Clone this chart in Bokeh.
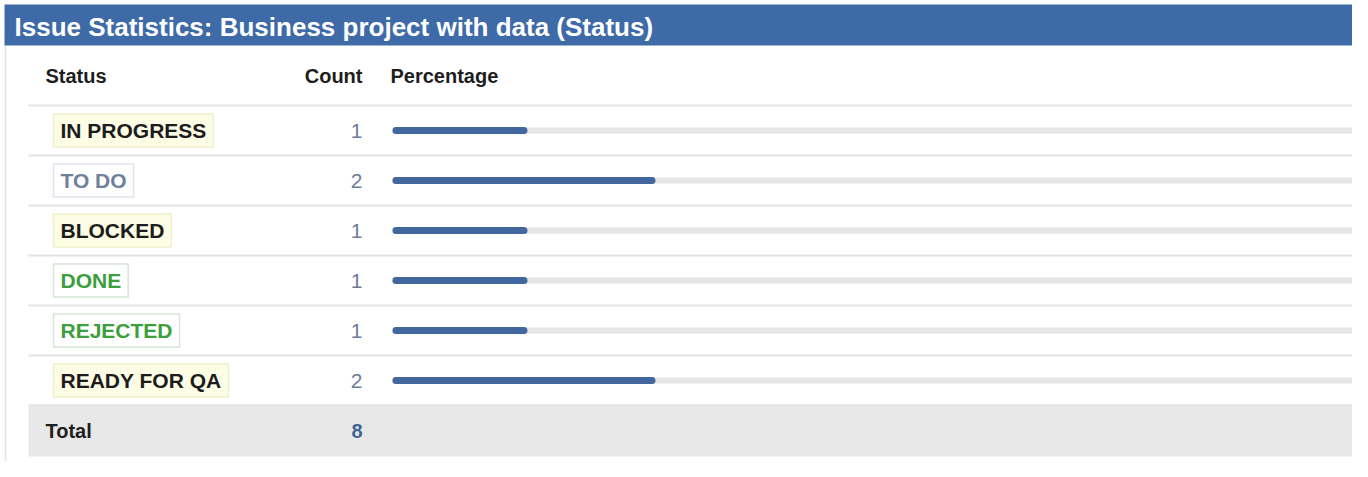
from bokeh.plotting import figure
from bokeh.models import ColumnDataSource, Range1d
from bokeh.embed import file_html
from bokeh.resources import INLINE
from bokeh.core.properties import value

# ---- data ----
title = "Issue Statistics: Business project with data (Status)"
headers = ["Status", "Count", "Percentage"]
statuses = ["IN PROGRESS", "TO DO", "BLOCKED", "DONE", "REJECTED", "READY FOR QA"]
counts = [1, 2, 1, 1, 1, 2]
status_kind = ["yellow", "blue", "yellow", "green", "green", "yellow"]
total_label = "Total"

total = sum(counts)
pcts = [c / total * 100 for c in counts]
rows = list(range(len(statuses)))

# ---- styles ----
FONT = value("Liberation Sans")
kind_text = {"yellow": "#1c1c1c", "blue": "#6f7f9e", "green": "#3c9f3c"}
kind_bg = {"yellow": "#fdfde6", "blue": "#ffffff", "green": "#ffffff"}
kind_bd = {"yellow": "#efefc9", "blue": "#dfe4ec", "green": "#d5e6d5"}

W, H = 1352, 461
p = figure(width=W, height=H, x_range=Range1d(0, W), y_range=Range1d(H, 0),
           x_axis_type=None, y_axis_type=None, output_backend="svg",
           toolbar_location=None, min_border=0)
p.grid.visible = False
p.outline_line_color = None
p.background_fill_color = "white"
p.border_fill_color = "white"
p.extra_x_ranges = {"pct": Range1d(-38.62, 93.41)}
p.extra_y_ranges = {"row": Range1d(6.62, -2.6)}

# panel border
p.segment(x0=[5], x1=[5], y0=[45], y1=[H], line_color="#e4e4e4", line_width=1.5)

# title bar
p.quad(left=4, right=1362, top=4, bottom=45, fill_color="#3e6aa8", line_color=None)
p.text(x=[14], y=[26], text=[title], text_color="white", text_font=FONT,
       text_font_style="bold", text_font_size="26px", text_baseline="middle")

# header row
p.text(x=[45], y=[75], text=[headers[0]], text_color="#1e1e1e", text_font=FONT,
       text_font_style="bold", text_font_size="20px", text_baseline="middle")
p.text(x=[362], y=[75], text=[headers[1]], text_color="#1e1e1e", text_font=FONT,
       text_font_style="bold", text_font_size="20px", text_baseline="middle", text_align="right")
p.text(x=[390], y=[75], text=[headers[2]], text_color="#1e1e1e", text_font=FONT,
       text_font_style="bold", text_font_size="20px", text_baseline="middle")

# total row background
n = len(statuses)
p.quad(left=28, right=1362, top=[n - 0.52], bottom=[n + 0.52], y_range_name="row",
       fill_color="#e8e8e8", line_color=None)

# separators
sep_y = [i - 0.5 for i in range(n + 1)]
p.segment(x0=28, x1=1362, y0=sep_y, y1=sep_y, y_range_name="row",
          line_color="#e3e3e3", line_width=2)

src = ColumnDataSource(dict(
    row=rows, status=statuses, count=[str(c) for c in counts], pct=pcts,
    zero=[0] * n,
    tc=[kind_text[k] for k in status_kind],
    bg=[kind_bg[k] for k in status_kind],
    bd=[kind_bd[k] for k in status_kind],
))

# track
p.segment(x0=392, x1=1355, y0="row", y1="row", source=src, y_range_name="row",
          line_color="#e6e6e6", line_width=6)
# bars
p.segment(x0="zero", x1="pct", y0="row", y1="row", source=src,
          x_range_name="pct", y_range_name="row",
          line_color="#41679e", line_width=7, line_cap="round")

# status lozenges
p.text(x=53, y="row", text="status", source=src, y_range_name="row",
       text_color="tc", text_font=FONT, text_font_style="bold", text_font_size="21px",
       text_baseline="middle", background_fill_color="bg", border_line_color="bd",
       border_line_width=1.5, padding=(7, 5))

# counts
p.text(x=362, y="row", text="count", source=src, y_range_name="row",
       text_color="#6b7c99", text_font=FONT, text_font_size="21px",
       text_baseline="middle", text_align="right")

# total
p.text(x=[45], y=[n], text=[total_label], y_range_name="row", text_color="#1e1e1e",
       text_font=FONT, text_font_style="bold", text_font_size="20px", text_baseline="middle")
p.text(x=[362], y=[n], text=[str(total)], y_range_name="row", text_color="#3d6594",
       text_font=FONT, text_font_style="bold", text_font_size="20px",
       text_baseline="middle", text_align="right")

open("out.html", "w").write(file_html(p, INLINE))
